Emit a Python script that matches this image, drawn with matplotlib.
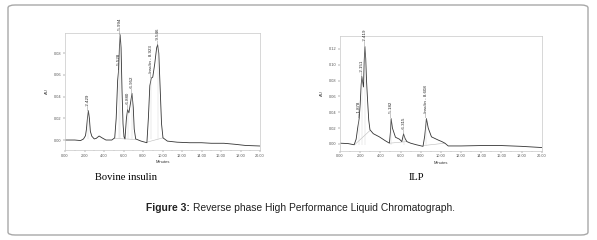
#!/usr/bin/env python3
# -*- coding: utf-8 -*-
"""
Figure 3: Reverse phase High Performance Liquid Chromatograph.
Bovine insulin standard vs ILP sample
"""

import matplotlib
matplotlib.use('Agg')
import matplotlib.pyplot as plt
from matplotlib.patches import FancyBboxPatch

plt.rcParams['font.family'] = ['Liberation Sans', 'DejaVu Sans']
plt.rcParams['axes.unicode_minus'] = False

# ---- Bovine insulin trace (Minutes, AU) ----
bov_time = [0.0, 1.0, 1.6, 1.9, 2.1, 2.2, 2.3, 2.4, 2.5, 2.6, 2.75, 3.0, 3.2,
            3.5, 3.8, 4.2, 4.8, 5.1, 5.25, 5.4, 5.5, 5.58, 5.66, 5.75, 5.85,
            5.95, 6.05, 6.15, 6.3, 6.42, 6.55, 6.7, 6.87, 7.0, 7.1, 7.25,
            7.8, 8.2, 8.4, 8.55, 8.7, 8.85, 9.0, 9.2, 9.4, 9.5, 9.62, 9.75,
            9.9, 10.05, 10.5, 11.5, 12.8, 14.0, 15.0, 16.3, 17.5, 18.5, 19.96]
bov_au = [0.000, 0.000, -0.0005, 0.001, 0.004, 0.010, 0.020, 0.027, 0.020,
          0.008, 0.0035, 0.001, 0.0015, 0.0037, 0.002, 0.000, 0.000, 0.002,
          0.020, 0.055, 0.0646, 0.085, 0.097, 0.085, 0.045, 0.015, 0.003,
          0.001, 0.020, 0.028, 0.025, 0.033, 0.043, 0.030, 0.010, 0.001,
          -0.001, -0.002, -0.0025, 0.020, 0.050, 0.057, 0.058, 0.070, 0.085,
          0.0877, 0.080, 0.050, 0.015, 0.002, -0.001, -0.002, -0.0025,
          -0.0025, -0.003, -0.003, -0.004, -0.005, -0.0055]
bov_peak_t = [2.4, 5.5, 5.66, 6.42, 6.87, 8.85, 9.5]
bov_peak_au = [0.027, 0.0646, 0.097, 0.028, 0.043, 0.057, 0.0877]
bov_peak_lbl = ['2.429', '5.528', '5.994', '6.880', '6.952',
                'Insulin - 8.923', '9.546']
bov_yticks = [0.00, 0.02, 0.04, 0.06, 0.08]

# ---- ILP trace (Minutes, AU) ----
ilp_time = [0.0, 0.8, 1.4, 1.6, 1.75, 1.9, 2.0, 2.1, 2.17, 2.25, 2.33, 2.4,
            2.47, 2.55, 2.63, 2.73, 2.85, 2.97, 3.3, 3.9, 4.5, 4.9, 5.0,
            5.07, 5.2, 5.5, 5.9, 6.13, 6.3, 6.45, 6.63, 7.0, 7.57, 8.23,
            8.4, 8.57, 8.75, 9.07, 9.4, 9.73, 10.1, 10.4, 10.73, 12.0, 14.0,
            16.0, 18.0, 20.0]
ilp_au = [0.001, 0.0005, -0.001, 0.006, 0.020, 0.032, 0.050, 0.075, 0.085,
          0.078, 0.072, 0.105, 0.123, 0.108, 0.080, 0.056, 0.030, 0.018,
          0.013, 0.009, 0.004, 0.001, 0.015, 0.032, 0.020, 0.0085, 0.006,
          0.003, 0.0126, 0.007, 0.003, 0.001, -0.001, -0.003, 0.010, 0.032,
          0.020, 0.009, 0.007, 0.005, 0.003, 0.001, -0.0025, -0.0025, -0.002,
          -0.002, -0.003, -0.0045]
ilp_peak_t = [1.9, 2.17, 2.47, 5.07, 6.3, 8.57]
ilp_peak_au = [0.032, 0.085, 0.123, 0.032, 0.0126, 0.032]
ilp_peak_lbl = ['1.878', '2.151', '2.419', '5.182', '6.315',
                'Insulin - 8.608']
ilp_yticks = [0.00, 0.02, 0.04, 0.06, 0.08, 0.10, 0.12]

xticks = [0, 2, 4, 6, 8, 10, 12, 14, 16, 18, 20]

# integration baselines drawn by the software (light gray)
bov_base = [([5.1, 6.15], [0.0015, 0.001]), ([6.15, 7.25], [0.001, 0.0005]),
            ([8.4, 10.05], [-0.002, 0.002])]
ilp_base = [([1.45, 2.97], [-0.001, 0.017]), ([4.95, 6.63], [0.001, 0.003]),
            ([8.3, 10.4], [-0.002, 0.001])]

TRACE = '#333333'
FRAME = '#c8c8c8'


def draw_chrom(ax, t, au, pk_t, pk_au, pk_lbl, yticks, ylim, base):
    """单张色谱图"""
    for bx, by in base:
        ax.plot(bx, by, color='#bbbbbb', lw=0.4)
    ax.plot(t, au, color=TRACE, lw=0.6)
    span = ylim[1] - ylim[0]
    for x, y, s in zip(pk_t, pk_au, pk_lbl):
        ax.vlines(x, min(base[0][1]), y, color='#d0d0d0', lw=0.3)
        ax.text(x, y + span * 0.01, '\u2014' + s, rotation=90, ha='center',
                va='bottom', fontsize=3.2, color='#222222')
    ax.set_xlim(0, 20)
    ax.set_ylim(*ylim)
    ax.set_xticks(xticks)
    ax.set_xticklabels([f'{v:.2f}' for v in xticks])
    ax.set_xticks([v + 1 for v in xticks[:-1]], minor=True)
    ax.set_yticks(yticks)
    ax.set_yticklabels([f'{v:.2f}' for v in yticks])
    ax.tick_params(labelsize=2.8, length=1.2, width=0.3, pad=1.5,
                   colors='#555555')
    ax.tick_params(which='minor', length=0.8, width=0.3, colors='#888888')
    for sp in ax.spines.values():
        sp.set_color(FRAME)
        sp.set_linewidth(0.5)
    ax.set_xlabel('Minutes', fontsize=3, labelpad=1.5, color='#333333')
    ax.set_ylabel('AU', fontsize=3, labelpad=3, color='#333333')


def main():
    fig = plt.figure(figsize=(5.97, 2.40), dpi=100)

    # outer rounded frame
    box = FancyBboxPatch((8 / 597, 5 / 240), 580 / 597, 230 / 240,
                         boxstyle='round,pad=0,rounding_size=0.012',
                         transform=fig.transFigure, fill=False,
                         edgecolor='#a8a8a8', lw=1.0)
    fig.patches.append(box)

    ax1 = fig.add_axes([65 / 597, 1 - 150 / 240, 195 / 597, 117.3 / 240])
    draw_chrom(ax1, bov_time, bov_au, bov_peak_t, bov_peak_au, bov_peak_lbl,
               bov_yticks, (-0.0092, 0.0989), bov_base)

    ax2 = fig.add_axes([340 / 597, 1 - 150.7 / 240, 201.7 / 597, 114.7 / 240])
    draw_chrom(ax2, ilp_time, ilp_au, ilp_peak_t, ilp_peak_au, ilp_peak_lbl,
               ilp_yticks, (-0.0085, 0.1364), ilp_base)

    # captions
    fig.text(126 / 597, 1 - 177 / 240, 'Bovine insulin', ha='center',
             va='center', fontsize=7.6, family='Liberation Serif')
    fig.text(416 / 597, 1 - 177 / 240, 'ILP', ha='center', va='center',
             fontsize=7.6, family='Liberation Serif')
    cap_bold = fig.text(146 / 597, 1 - 208 / 240, 'Figure 3:', ha='left',
                        va='center', fontsize=7.4, fontweight='bold',
                        color='#222222')
    fig.canvas.draw()
    bb = cap_bold.get_window_extent()
    fig.text(bb.x1 / fig.bbox.width + 3 / 597, 1 - 208 / 240,
             'Reverse phase High Performance Liquid Chromatograph.',
             ha='left', va='center', fontsize=7.4, color='#222222')

    fig.savefig('out.png', dpi=100)


if __name__ == '__main__':
    main()
